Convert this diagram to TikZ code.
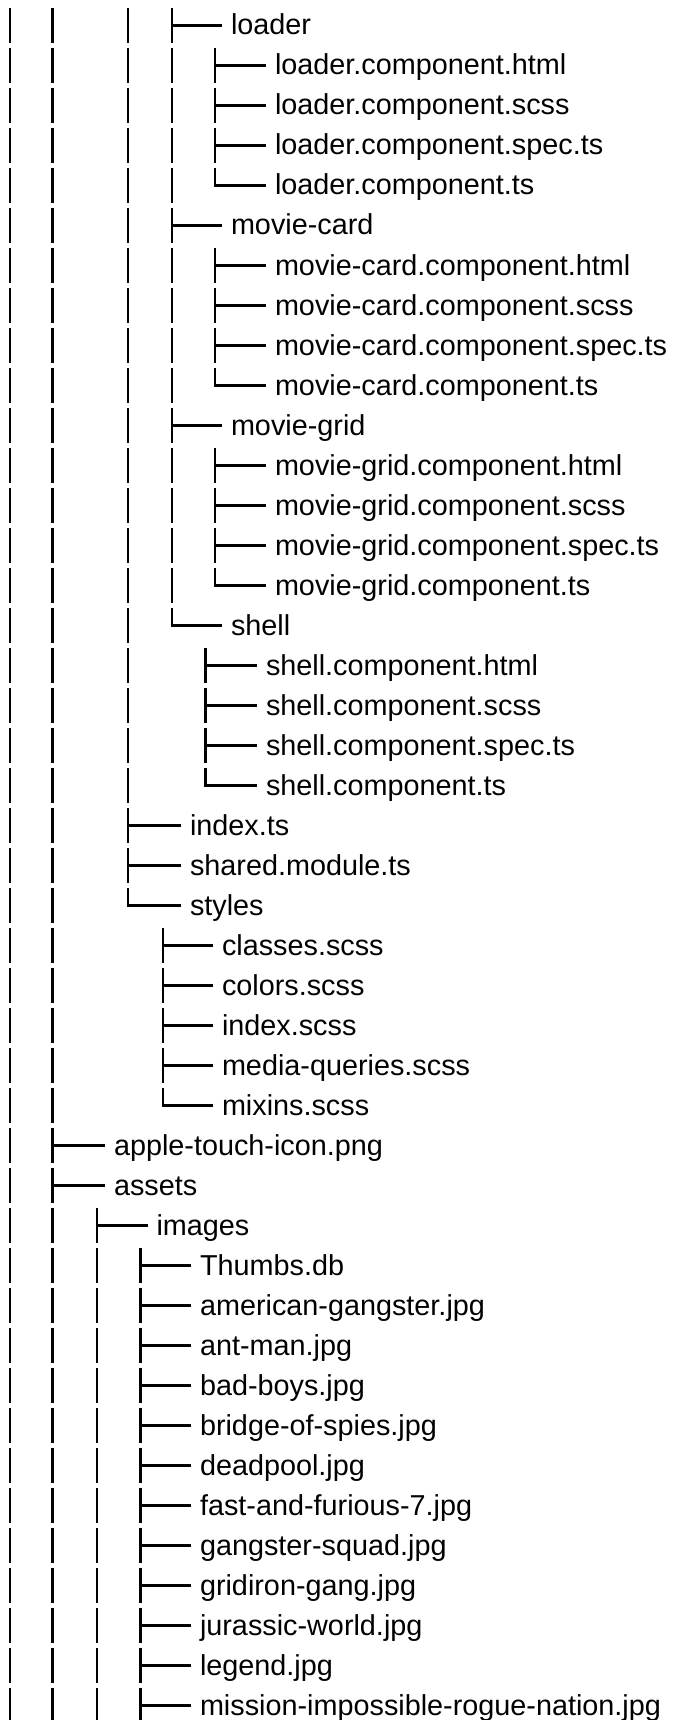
\documentclass[tikz,border=0pt]{standalone}
\usepackage{fontspec}
\setmainfont{Liberation Sans}
\usepackage{tikz}
\usetikzlibrary{positioning, calc}

\begin{document}
\begin{tikzpicture}[x=1pt,y=-1pt]
		\tikzstyle{file} = [anchor=west, inner sep=0, outer sep=0, text height=23pt, text depth=4pt,
		font=\fontsize{28.8pt}{34pt}\selectfont]
		\tikzstyle{guide} = [line width=2.7pt, dash pattern=on 35pt off 5pt]
		\tikzstyle{branch} = [line width=2.7pt, shorten <=-1.3pt]
		
		\useasboundingbox (0,0) rectangle (677,1720);
		
		\node [file] (v1) at (231,25.5) {loader};
		\node [file] (v2) at (275,65.5) {loader.component.html};
		\node [file] (v3) at (275,105.5) {loader.component.scss};
		\node [file] (v4) at (275,145.5) {loader.component.spec.ts};
		\node [file] (v5) at (275,185.5) {loader.component.ts};
		\node [file] (v6) at (231,225.5) {movie-card};
		\node [file] (v7) at (275,265.5) {movie-card.component.html};
		\node [file] (v8) at (275,305.5) {movie-card.component.scss};
		\node [file] (v9) at (275,345.5) {movie-card.component.spec.ts};
		\node [file] (v10) at (275,385.5) {movie-card.component.ts};
		\node [file] (v11) at (231,425.5) {movie-grid};
		\node [file] (v12) at (275,465.5) {movie-grid.component.html};
		\node [file] (v13) at (275,505.5) {movie-grid.component.scss};
		\node [file] (v14) at (275,545.5) {movie-grid.component.spec.ts};
		\node [file] (v15) at (275,585.5) {movie-grid.component.ts};
		\node [file] (v16) at (231,625.5) {shell};
		\node [file] (v17) at (266,665.5) {shell.component.html};
		\node [file] (v18) at (266,705.5) {shell.component.scss};
		\node [file] (v19) at (266,745.5) {shell.component.spec.ts};
		\node [file] (v20) at (266,785.5) {shell.component.ts};
		\node [file] (v21) at (190,825.5) {index.ts};
		\node [file] (v22) at (190,865.5) {shared.module.ts};
		\node [file] (v23) at (190,905.5) {styles};
		\node [file] (v24) at (222,945.5) {classes.scss};
		\node [file] (v25) at (222,985.5) {colors.scss};
		\node [file] (v26) at (222,1025.5) {index.scss};
		\node [file] (v27) at (222,1065.5) {media-queries.scss};
		\node [file] (v28) at (222,1105.5) {mixins.scss};
		\node [file] (v29) at (114,1145.5) {apple-touch-icon.png};
		\node [file] (v30) at (114,1185.5) {assets};
		\node [file] (v31) at (156.5,1225.5) {images};
		\node [file] (v32) at (200,1265.5) {Thumbs.db};
		\node [file] (v33) at (200,1305.5) {american-gangster.jpg};
		\node [file] (v34) at (200,1345.5) {ant-man.jpg};
		\node [file] (v35) at (200,1385.5) {bad-boys.jpg};
		\node [file] (v36) at (200,1425.5) {bridge-of-spies.jpg};
		\node [file] (v37) at (200,1465.5) {deadpool.jpg};
		\node [file] (v38) at (200,1505.5) {fast-and-furious-7.jpg};
		\node [file] (v39) at (200,1545.5) {gangster-squad.jpg};
		\node [file] (v40) at (200,1585.5) {gridiron-gang.jpg};
		\node [file] (v41) at (200,1625.5) {jurassic-world.jpg};
		\node [file] (v42) at (200,1665.5) {legend.jpg};
		\node [file] (v43) at (200,1705.5) {mission-impossible-rogue-nation.jpg};
		
		\coordinate (t0) at (10,8);
		\coordinate (t1) at (52.5,8);
		\coordinate (t2) at (128,8);
		\coordinate (t3) at (172,8);
		\coordinate (t4) at (215,48);
		\coordinate (t5) at (215,248);
		\coordinate (t6) at (215,448);
		\coordinate (t7) at (205.5,648);
		\coordinate (t8) at (163,928);
		\coordinate (t9) at (97,1208);
		\coordinate (t10) at (140.5,1248);
		\coordinate (bottom) at (0,1720);
		
		\draw [guide] (t0) -- (t0 |- bottom);
		\draw [guide] (t1) -- (t1 |- bottom);
		\draw [guide] (t2) -- (t2 |- v23.west);
		\draw [guide] (t3) -- (t3 |- v16.west);
		\draw [guide] (t4) -- (t4 |- v5.west);
		\draw [guide] (t5) -- (t5 |- v10.west);
		\draw [guide] (t6) -- (t6 |- v15.west);
		\draw [guide] (t7) -- (t7 |- v20.west);
		\draw [guide] (t8) -- (t8 |- v28.west);
		\draw [guide] (t9) -- (t9 |- bottom);
		\draw [guide] (t10) -- (t10 |- bottom);
		
		\draw [branch] (t3 |- v1.west) -- ([xshift=-9pt]v1.west) (t3 |- v6.west) -- ([xshift=-9pt]v6.west)
		(t3 |- v11.west) -- ([xshift=-9pt]v11.west) (t3 |- v16.west) -- ([xshift=-9pt]v16.west);
		\draw [branch] (t4 |- v2.west) -- ([xshift=-9pt]v2.west) (t4 |- v3.west) -- ([xshift=-9pt]v3.west)
		(t4 |- v4.west) -- ([xshift=-9pt]v4.west) (t4 |- v5.west) -- ([xshift=-9pt]v5.west);
		\draw [branch] (t5 |- v7.west) -- ([xshift=-9pt]v7.west) (t5 |- v8.west) -- ([xshift=-9pt]v8.west)
		(t5 |- v9.west) -- ([xshift=-9pt]v9.west) (t5 |- v10.west) -- ([xshift=-9pt]v10.west);
		\draw [branch] (t6 |- v12.west) -- ([xshift=-9pt]v12.west) (t6 |- v13.west) -- ([xshift=-9pt]v13.west)
		(t6 |- v14.west) -- ([xshift=-9pt]v14.west) (t6 |- v15.west) -- ([xshift=-9pt]v15.west);
		\draw [branch] (t7 |- v17.west) -- ([xshift=-9pt]v17.west) (t7 |- v18.west) -- ([xshift=-9pt]v18.west)
		(t7 |- v19.west) -- ([xshift=-9pt]v19.west) (t7 |- v20.west) -- ([xshift=-9pt]v20.west);
		\draw [branch] (t2 |- v21.west) -- ([xshift=-9pt]v21.west) (t2 |- v22.west) -- ([xshift=-9pt]v22.west)
		(t2 |- v23.west) -- ([xshift=-9pt]v23.west);
		\draw [branch] (t8 |- v24.west) -- ([xshift=-9pt]v24.west) (t8 |- v25.west) -- ([xshift=-9pt]v25.west)
		(t8 |- v26.west) -- ([xshift=-9pt]v26.west) (t8 |- v27.west) -- ([xshift=-9pt]v27.west)
		(t8 |- v28.west) -- ([xshift=-9pt]v28.west);
		\draw [branch] (t1 |- v29.west) -- ([xshift=-9pt]v29.west) (t1 |- v30.west) -- ([xshift=-9pt]v30.west);
		\draw [branch] (t9 |- v31.west) -- ([xshift=-9pt]v31.west);
		\draw [branch] (t10 |- v32.west) -- ([xshift=-9pt]v32.west) (t10 |- v33.west) -- ([xshift=-9pt]v33.west)
		(t10 |- v34.west) -- ([xshift=-9pt]v34.west) (t10 |- v35.west) -- ([xshift=-9pt]v35.west)
		(t10 |- v36.west) -- ([xshift=-9pt]v36.west) (t10 |- v37.west) -- ([xshift=-9pt]v37.west)
		(t10 |- v38.west) -- ([xshift=-9pt]v38.west) (t10 |- v39.west) -- ([xshift=-9pt]v39.west)
		(t10 |- v40.west) -- ([xshift=-9pt]v40.west) (t10 |- v41.west) -- ([xshift=-9pt]v41.west)
		(t10 |- v42.west) -- ([xshift=-9pt]v42.west) (t10 |- v43.west) -- ([xshift=-9pt]v43.west);
\end{tikzpicture}
\end{document}
